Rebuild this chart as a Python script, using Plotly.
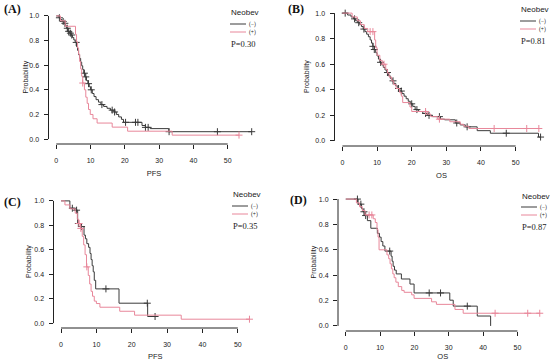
import plotly.graph_objects as go

W, H = 550, 361

# ---------------- data ----------------
# Panel A: PFS, all patients
A_neg_t = [0, 0.8, 1.2, 1.7, 2.2, 2.7, 3.0, 3.3, 3.8, 4.3, 4.7, 5.1, 5.5, 5.9, 6.2, 6.5, 6.8, 7.1, 7.4, 7.7,
           8.0, 8.4, 8.8, 9.2, 9.6, 10.0, 10.5, 11.0, 11.6, 12.3, 13.0, 13.8, 14.8, 15.8, 16.8, 17.5, 18.2,
           19.0, 19.6, 25.0, 26.0, 27.4, 32.8]
A_neg_s = [1.0, 0.985, 0.97, 0.955, 0.94, 0.92, 0.90, 0.875, 0.86, 0.845, 0.825, 0.805, 0.785, 0.75, 0.72,
           0.685, 0.655, 0.625, 0.595, 0.565, 0.535, 0.505, 0.475, 0.45, 0.425, 0.40, 0.37, 0.345, 0.32, 0.30,
           0.28, 0.265, 0.25, 0.235, 0.22, 0.20, 0.18, 0.16, 0.136, 0.11, 0.095, 0.085, 0.06]
A_neg_end = 57.0
A_neg_cens = [0.9, 2.0, 2.5, 3.2, 3.6, 4.1, 4.5, 5.8, 8.2, 8.6, 9.4, 10.2, 13.3, 16.3, 17.0, 20.2, 23.1,
              23.8, 26.0, 26.8, 32.9, 47.0, 57.0]
A_pos_t = [0, 1.2, 2.6, 5.6, 5.9, 6.2, 6.5, 6.8, 7.1, 7.4, 7.7, 8.2, 8.6, 9.0, 9.4, 9.9, 10.7, 11.9, 16.3,
           20.8, 33.8]
A_pos_s = [1.0, 0.96, 0.916, 0.85, 0.79, 0.74, 0.69, 0.63, 0.57, 0.51, 0.455, 0.40, 0.34, 0.29, 0.24, 0.20,
           0.165, 0.13, 0.097, 0.064, 0.032]
A_pos_end = 53.3
A_pos_cens = [7.7, 53.3]

# Panel B: OS, all patients
B_neg_t = [0, 1.5, 2.5, 3.2, 3.8, 4.4, 5.0, 5.5, 6.0, 6.5, 7.0, 7.5, 8.0, 8.4, 8.8, 9.2, 9.6, 10.0, 10.4,
           10.8, 11.3, 11.8, 12.3, 12.8, 13.3, 13.8, 14.3, 14.8, 15.4, 16.0, 16.6, 17.2, 17.8, 18.4, 19.0,
           19.6, 20.3, 21.0, 22.0, 23.2, 24.5, 26.0, 28.3, 29.5, 32.6, 34.0, 35.5, 38.9, 42.7, 56.6]
B_neg_s = [1.0, 0.985, 0.97, 0.955, 0.94, 0.925, 0.91, 0.895, 0.875, 0.855, 0.835, 0.815, 0.79, 0.765,
           0.74, 0.715, 0.69, 0.665, 0.64, 0.615, 0.595, 0.575, 0.555, 0.535, 0.51, 0.49, 0.47, 0.45, 0.43,
           0.41, 0.39, 0.37, 0.35, 0.33, 0.31, 0.29, 0.27, 0.245, 0.23, 0.215, 0.20, 0.19, 0.17, 0.165,
           0.14, 0.125, 0.11, 0.08, 0.06, 0.03]
B_neg_end = 57.2
B_neg_cens = [0.8, 3.5, 4.7, 6.2, 8.8, 9.2, 11.0, 13.0, 14.6, 16.2, 17.0, 20.0, 21.5, 24.0, 25.0, 28.0,
              33.0, 36.0, 47.3, 57.2]
B_pos_t = [0, 2.8, 4.3, 5.2, 6.3, 7.3, 9.3, 9.6, 10.0, 10.8, 11.5, 12.5, 13.0, 13.5, 14.2, 14.8, 15.5,
           16.5, 17.0, 17.4, 19.5, 20.0, 24.5, 25.5, 27.5, 31.0, 34.0, 35.0, 36.5]
B_pos_s = [1.0, 0.97, 0.94, 0.91, 0.88, 0.855, 0.79, 0.73, 0.67, 0.63, 0.60, 0.56, 0.53, 0.50, 0.47,
           0.44, 0.41, 0.38, 0.35, 0.30, 0.265, 0.23, 0.21, 0.19, 0.17, 0.15, 0.13, 0.115, 0.097]
B_pos_end = 56.7
B_pos_cens = [8.0, 8.8, 12.0, 24.0, 28.0, 43.8, 53.2, 56.7]

# Panel C: PFS, subgroup
C_neg_t = [0, 2.5, 3.9, 4.7, 5.6, 6.5, 6.9, 7.3, 7.8, 8.2, 8.5, 8.8, 9.1, 9.4, 9.8, 16.4, 24.5]
C_neg_s = [1.0, 0.94, 0.924, 0.815, 0.79, 0.72, 0.69, 0.65, 0.62, 0.57, 0.52, 0.47, 0.42, 0.35, 0.28,
           0.163, 0.054]
C_neg_end = 26.6
C_neg_cens = [3.2, 4.4, 4.9, 5.8, 12.7, 24.4, 26.6]
C_pos_t = [0, 1.1, 2.5, 4.0, 4.6, 5.0, 5.5, 6.0, 6.4, 6.8, 7.2, 7.7, 8.1, 8.5, 8.9, 9.4, 10.0, 11.0,
           16.6, 20.8, 34.0]
C_pos_s = [1.0, 0.967, 0.935, 0.90, 0.85, 0.815, 0.775, 0.71, 0.64, 0.56, 0.46, 0.39, 0.32, 0.26, 0.22,
           0.18, 0.16, 0.13, 0.097, 0.065, 0.032]
C_pos_end = 53.3
C_pos_cens = [5.1, 5.6, 7.3, 53.3]

# Panel D: OS, subgroup
D_neg_t = [0, 3.6, 4.6, 5.0, 5.5, 6.3, 7.3, 9.2, 9.8, 10.3, 10.8, 11.4, 13.2, 13.5, 13.8, 14.2, 14.7,
           16.2, 18.7, 19.9, 30.3, 31.3, 38.3, 42.2]
D_neg_s = [1.0, 0.96, 0.925, 0.90, 0.87, 0.83, 0.77, 0.73, 0.70, 0.665, 0.63, 0.59, 0.55, 0.51, 0.47,
           0.44, 0.41, 0.37, 0.33, 0.26, 0.203, 0.156, 0.078, 0.0]
D_neg_end = 42.2
D_neg_cens = [3.4, 4.4, 5.3, 5.8, 12.8, 24.3, 27.6, 35.4]
D_pos_t = [0, 3.1, 4.0, 4.8, 5.6, 8.0, 8.6, 9.1, 9.4, 9.7, 12.0, 12.5, 12.9, 13.3, 13.7, 14.1, 14.6,
           15.3, 16.3, 17.0, 19.2, 19.9, 25.0, 26.4, 31.8, 34.2]
D_pos_s = [1.0, 0.97, 0.94, 0.91, 0.875, 0.845, 0.815, 0.76, 0.70, 0.60, 0.56, 0.53, 0.49, 0.45, 0.41,
           0.38, 0.345, 0.31, 0.28, 0.265, 0.245, 0.217, 0.19, 0.17, 0.13, 0.10]
D_pos_end = 56.5
D_pos_cens = [6.8, 7.6, 43.5, 53.0, 56.5]

panel_letters = ["(A)", "(B)", "(C)", "(D)"]
x_titles = ["PFS", "OS", "PFS", "OS"]
p_values = ["P=0.30", "P=0.81", "P=0.35", "P=0.87"]
legend_title = "Neobev"
group_labels = ["(\u2212)", "(+)"]
x_ticks = [0, 10, 20, 30, 40, 50]
y_ticks = [0.0, 0.2, 0.4, 0.6, 0.8, 1.0]

curves = [
    [(A_neg_t, A_neg_s, A_neg_end, A_neg_cens), (A_pos_t, A_pos_s, A_pos_end, A_pos_cens)],
    [(B_neg_t, B_neg_s, B_neg_end, B_neg_cens), (B_pos_t, B_pos_s, B_pos_end, B_pos_cens)],
    [(C_neg_t, C_neg_s, C_neg_end, C_neg_cens), (C_pos_t, C_pos_s, C_pos_end, C_pos_cens)],
    [(D_neg_t, D_neg_s, D_neg_end, D_neg_cens), (D_pos_t, D_pos_s, D_pos_end, D_pos_cens)],
]

# ---------------- styling / layout ----------------
COL_NEG = "#3a3a3a"
COL_POS = "#e8879a"
TXT = "#222222"
SANS = "Liberation Sans, Arial, sans-serif"
SERIF = "Liberation Serif, Times New Roman, serif"

# plot-region pixel boxes: left, right, top, bottom
boxes = [(48.5, 259.5, 11.0, 144.0),
         (334.5, 548.5, 8.0, 146.0),
         (53.5, 257.0, 196.0, 328.0),
         (338.0, 547.5, 194.0, 331.0)]
letter_pos = [(12, 9), (296, 9), (12, 202), (299, 200)]
legend_pos = [(229, 13), (519, 10), (231, 195), (520, 196)]
ytitle_x = [25, 307, 29, 313]


def step_at(times, surv, t):
    v = surv[0]
    for ti, si in zip(times, surv):
        if ti <= t:
            v = si
    return v


fig = go.Figure()
shapes = []
annotations = []

for i in range(4):
    ax = "" if i == 0 else str(i + 1)
    xa, ya = "x" + ax, "y" + ax
    L, R, T, B = boxes[i]
    tmax = max(c[2] for c in curves[i])
    xr = [-0.04 * tmax, 1.04 * tmax]
    for j, (tt, ss, tend, cens) in enumerate(curves[i]):
        col = COL_NEG if j == 0 else COL_POS
        fig.add_trace(go.Scatter(x=list(tt) + [tend], y=list(ss) + [ss[-1]], mode="lines",
                                 line=dict(color=col, width=1, shape="hv"),
                                 xaxis=xa, yaxis=ya, showlegend=False, hoverinfo="skip"))
        fig.add_trace(go.Scatter(x=cens, y=[step_at(tt, ss, c) for c in cens], mode="markers",
                                 marker=dict(symbol="cross-thin", size=5,
                                             line=dict(color=col, width=1)),
                                 xaxis=xa, yaxis=ya, showlegend=False, hoverinfo="skip"))
    axis_common = dict(showgrid=False, zeroline=False, showline=False, ticks="outside", ticklen=4,
                       tickwidth=1, tickcolor=TXT, automargin=False,
                       tickfont=dict(family=SANS, size=7, color=TXT))
    fig.layout["xaxis" + ax] = dict(axis_common, domain=[L / W, R / W], range=xr, tickvals=x_ticks,
                                    anchor=ya, ticklabelstandoff=6,
                                    title=dict(text=x_titles[i], font=dict(family=SANS, size=7.5, color=TXT),
                                               standoff=7))
    fig.layout["yaxis" + ax] = dict(axis_common, domain=[1 - B / H, 1 - T / H], range=[-0.04, 1.04],
                                    tickvals=y_ticks, tickformat=".1f", anchor=xa, ticklabelstandoff=3)
    annotations.append(dict(text="Probability", xref="paper", yref="paper", x=ytitle_x[i] / W,
                            y=1 - (T + B) / 2 / H, textangle=-90, showarrow=False,
                            font=dict(family=SANS, size=7, color=TXT), xanchor="center", yanchor="middle"))
    # R-style axis lines spanning the tick range
    shapes.append(dict(type="line", xref=xa, yref=ya + " domain", x0=x_ticks[0], x1=x_ticks[-1], y0=0, y1=0,
                       line=dict(color=TXT, width=1)))
    shapes.append(dict(type="line", xref=xa + " domain", yref=ya, x0=0, x1=0, y0=y_ticks[0], y1=y_ticks[-1],
                       line=dict(color=TXT, width=1)))
    # panel letter
    lx, ly = letter_pos[i]
    annotations.append(dict(text="<b>" + panel_letters[i] + "</b>", xref="paper", yref="paper",
                            x=lx / W, y=1 - ly / H, showarrow=False, xanchor="center", yanchor="middle",
                            font=dict(family=SERIF, size=12, color="#111111")))
    # legend block
    gx, gy = legend_pos[i]
    annotations.append(dict(text=legend_title, xref="paper", yref="paper", x=gx / W, y=1 - gy / H,
                            showarrow=False, xanchor="left", yanchor="middle",
                            font=dict(family=SANS, size=8, color=TXT)))
    for j, lab in enumerate(group_labels):
        yy = gy + 11 + 8 * j
        col = COL_NEG if j == 0 else COL_POS
        shapes.append(dict(type="line", xref="paper", yref="paper", x0=(gx + 1) / W, x1=(gx + 17) / W,
                           y0=1 - yy / H, y1=1 - yy / H, line=dict(color=col, width=1)))
        annotations.append(dict(text=lab, xref="paper", yref="paper", x=(gx + 17.5) / W, y=1 - yy / H,
                                showarrow=False, xanchor="left", yanchor="middle",
                                font=dict(family=SERIF, size=5.5, color=TXT)))
    annotations.append(dict(text=p_values[i], xref="paper", yref="paper", x=gx / W, y=1 - (gy + 31) / H,
                            showarrow=False, xanchor="left", yanchor="middle",
                            font=dict(family=SERIF, size=8.5, color=TXT)))

fig.update_layout(width=W, height=H, margin=dict(l=0, r=0, t=0, b=0, autoexpand=False),
                  paper_bgcolor="white", plot_bgcolor="white", shapes=shapes, annotations=annotations,
                  showlegend=False)
fig.write_html("out.html", config={"responsive": False, "displayModeBar": False},
               post_script="document.body.style.margin='0';document.body.style.overflow='hidden';")
